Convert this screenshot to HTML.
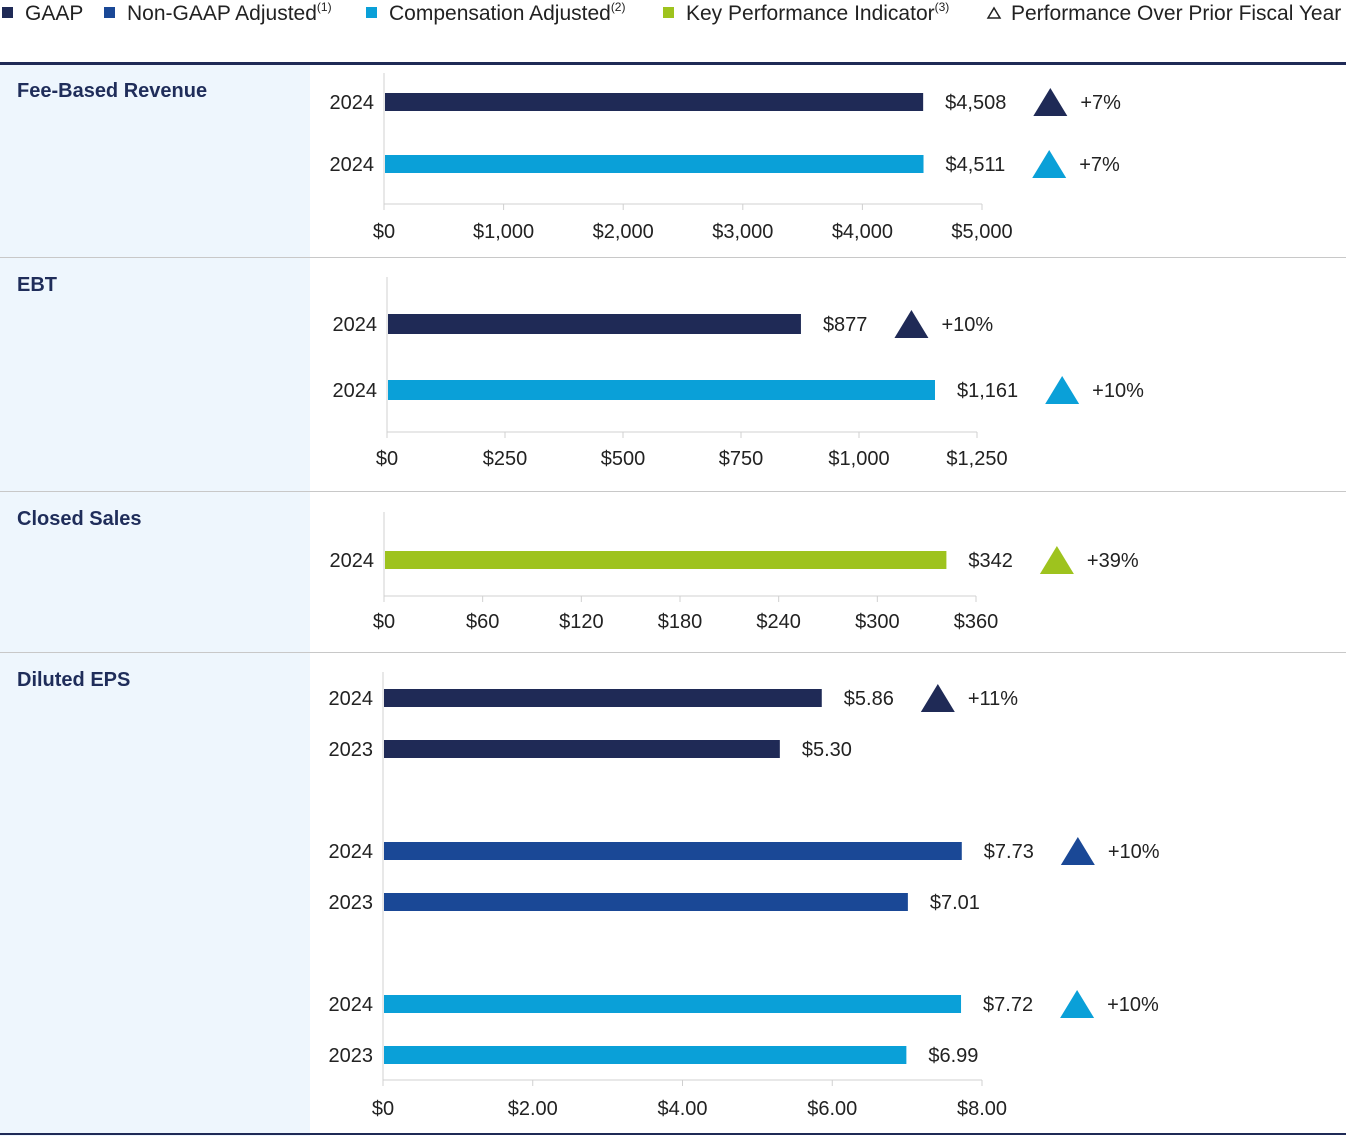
<!DOCTYPE html>
<html><head><meta charset="utf-8"><style>
body{margin:0;background:#fff;}
svg{display:block;font-family:"Liberation Sans",sans-serif;}
</style></head><body>
<svg id="c" width="1346" height="1136" viewBox="0 0 1346 1136">
<g id="legend"></g>
<g id="bg"></g>
<g id="plots"></g>
</svg>
<script>
const NS="http://www.w3.org/2000/svg";
const C={gaap:"#1f2a56",non:"#1a4896",comp:"#0aa0d8",kpi:"#9ec31e"};
// Panel data
const panelTitles=["Fee-Based Revenue","EBT","Closed Sales","Diluted EPS"];
const feeYears=["2024","2024"];const feeValues=[4508,4511];const feeSeries=["gaap","comp"];const feeLabels=["$4,508","$4,511"];const feeChange=["+7%","+7%"];
const feeTicks=[0,1000,2000,3000,4000,5000];const feeTickLabels=["$0","$1,000","$2,000","$3,000","$4,000","$5,000"];
const ebtYears=["2024","2024"];const ebtValues=[877,1161];const ebtSeries=["gaap","comp"];const ebtLabels=["$877","$1,161"];const ebtChange=["+10%","+10%"];
const ebtTicks=[0,250,500,750,1000,1250];const ebtTickLabels=["$0","$250","$500","$750","$1,000","$1,250"];
const csYears=["2024"];const csValues=[342];const csSeries=["kpi"];const csLabels=["$342"];const csChange=["+39%"];
const csTicks=[0,60,120,180,240,300,360];const csTickLabels=["$0","$60","$120","$180","$240","$300","$360"];
const epsYears=["2024","2023","2024","2023","2024","2023"];const epsValues=[5.86,5.30,7.73,7.01,7.72,6.99];
const epsSeries=["gaap","gaap","non","non","comp","comp"];const epsLabels=["$5.86","$5.30","$7.73","$7.01","$7.72","$6.99"];
const epsChange=["+11%","","+10%","","+10%",""];
const epsTicks=[0,2,4,6,8];const epsTickLabels=["$0","$2.00","$4.00","$6.00","$8.00"];

function el(t,a,p){const e=document.createElementNS(NS,t);for(const k in a)e.setAttribute(k,a[k]);p.appendChild(e);return e;}
const svg=document.getElementById('c');
// legend
const lg=document.getElementById('legend');
const legItems=[["GAAP",C.gaap,"sq",2],["Non-GAAP Adjusted",C.non,"sq",104,"(1)"],["Compensation Adjusted",C.comp,"sq",366,"(2)"],["Key Performance Indicator",C.kpi,"sq",663,"(3)"],["Performance Over Prior Fiscal Year","#222","tri",988]];
legItems.forEach(it=>{
  const g=el('g',{},lg);
  
  
  if(it[2]=="sq")el('rect',{x:it[3],y:7,width:11,height:11,fill:it[1]},g);
  else el('path',{d:`M${it[3]} 18 L${it[3]+6} 8 L${it[3]+12} 18 Z`,fill:"none",stroke:"#222","stroke-width":1.5},g);
  const t=el('text',{x:it[3]+23,y:20,"font-size":21,fill:"#222"},g);t.textContent=it[0];
  if(it[4]){const s=el('tspan',{"font-size":12,dy:-9},t);s.textContent=it[4];}
});
// backgrounds
const bg=document.getElementById('bg');
el('rect',{x:0,y:64,width:310,height:1072,fill:"#eef6fd"},bg);
el('rect',{x:0,y:62,width:1346,height:3,fill:"#1f2a56"},bg);
[257,491,652].forEach(y=>el('rect',{x:0,y:y,width:1346,height:1,fill:"#c8c8c8"},bg));
el('rect',{x:0,y:1133,width:1346,height:2,fill:"#1f2a56"},bg);
const panels=[
 {title:0,ty:97,x0:384,x1:982,axTop:73,axBot:204,tickY:238,rows:[93,155],bh:18,years:feeYears,vals:feeValues,ser:feeSeries,lab:feeLabels,chg:feeChange,ticks:feeTicks,tl:feeTickLabels},
 {title:1,ty:291,x0:387,x1:977,axTop:277,axBot:432,tickY:465,rows:[314,380],bh:20,years:ebtYears,vals:ebtValues,ser:ebtSeries,lab:ebtLabels,chg:ebtChange,ticks:ebtTicks,tl:ebtTickLabels},
 {title:2,ty:525,x0:384,x1:976,axTop:512,axBot:596,tickY:628,rows:[551],bh:18,years:csYears,vals:csValues,ser:csSeries,lab:csLabels,chg:csChange,ticks:csTicks,tl:csTickLabels},
 {title:3,ty:686,x0:383,x1:982,axTop:672,axBot:1080,tickY:1115,rows:[689,740,842,893,995,1046],bh:18,years:epsYears,vals:epsValues,ser:epsSeries,lab:epsLabels,chg:epsChange,ticks:epsTicks,tl:epsTickLabels}
];
const plots=document.getElementById('plots');
panels.forEach(p=>{
  const g=el('g',{},plots);
  
  
  const tt=el('text',{x:17,y:p.ty,"font-size":20,"font-weight":"bold",fill:"#1f2d5a"},g);tt.textContent=panelTitles[p.title];
  
  
  const max=p.ticks[p.ticks.length-1];
  const sx=v=>p.x0+(v/max)*(p.x1-p.x0);
  el('line',{x1:p.x0,y1:p.axTop,x2:p.x0,y2:p.axBot,stroke:"#d0d0d0"},g);
  el('line',{x1:p.x0,y1:p.axBot,x2:p.x1,y2:p.axBot,stroke:"#d0d0d0"},g);
  p.ticks.forEach((v,i)=>{
    el('line',{x1:sx(v),y1:p.axBot,x2:sx(v),y2:p.axBot+6,stroke:"#d0d0d0"},g);
    const t=el('text',{x:sx(v),y:p.tickY,"text-anchor":"middle","font-size":20,fill:"#222"},g);t.textContent=p.tl[i];
    
    
  });
  p.vals.forEach((v,i)=>{
    const y=p.rows[i],col=C[p.ser[i]];
    const yl=el('text',{x:p.x0-10,y:y+p.bh/2+7,"text-anchor":"end","font-size":20,fill:"#222"},g);yl.textContent=p.years[i];
    
    
    const r=el('rect',{x:p.x0+1,y:y,width:sx(v)-p.x0-1,height:p.bh,fill:col},g);
    
    
    const lx=sx(v)+22;
    const vl=el('text',{x:lx,y:y+p.bh/2+7,"font-size":20,fill:"#222"},g);vl.textContent=p.lab[i];
    
    
    if(p.chg[i]){
      const w=vl.getComputedTextLength();
      const cx=lx+w+44,cy=y+p.bh/2;
      const tr=el('path',{d:`M${cx-17} ${cy+14} L${cx} ${cy-14} L${cx+17} ${cy+14} Z`,fill:col},g);
      
      
      const ct=el('text',{x:cx+30,y:y+p.bh/2+7,"font-size":20,fill:"#222"},g);ct.textContent=p.chg[i];
      
      
    }
  });
});
</script>
</body></html>
